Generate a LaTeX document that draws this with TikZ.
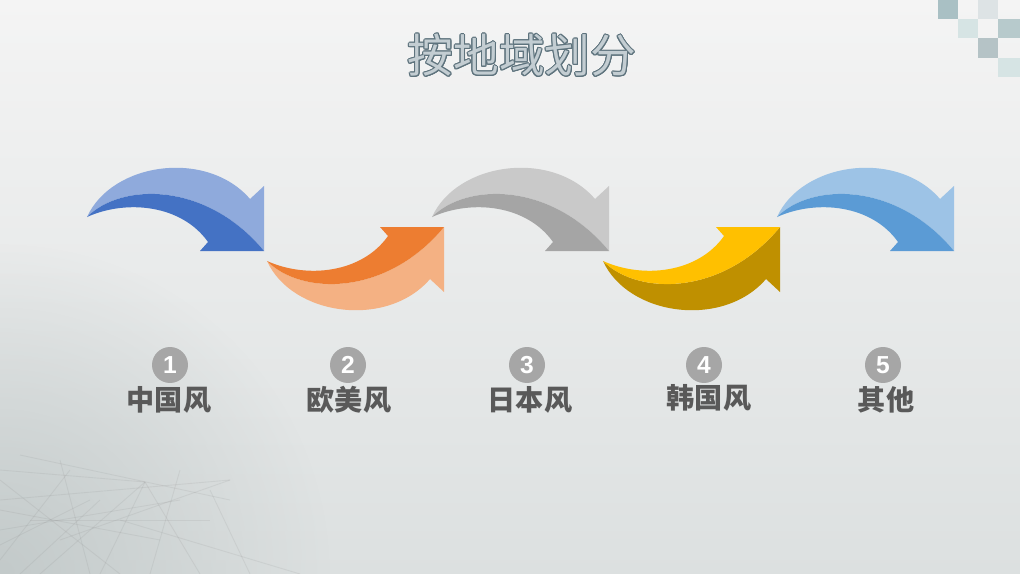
\documentclass[tikz,border=0pt]{standalone}
\usepackage{fontspec}
\usepackage{contour}
\setmainfont{Liberation Sans}
\newfontfamily\cjk{Noto Sans CJK SC}
\usetikzlibrary{fadings}

\definecolor{bgtop}{HTML}{F4F4F4}
\definecolor{bgbot}{HTML}{DCE0E0}
\definecolor{bgdark}{HTML}{C3CACA}
\definecolor{titlefill}{HTML}{C3CDD2}
\definecolor{titleline}{HTML}{5E737D}
\definecolor{numgray}{HTML}{A6A6A6}
\definecolor{labgray}{HTML}{595959}
\definecolor{blueL}{HTML}{8FAADC}
\definecolor{blueD}{HTML}{4472C4}
\definecolor{orangeL}{HTML}{F4B183}
\definecolor{orangeD}{HTML}{ED7D31}
\definecolor{grayL}{HTML}{C9C9C9}
\definecolor{grayD}{HTML}{A5A5A5}
\definecolor{goldL}{HTML}{FFC000}
\definecolor{goldD}{HTML}{BF9000}
\definecolor{skyL}{HTML}{9DC3E6}
\definecolor{skyD}{HTML}{5B9BD5}
\definecolor{chkA}{HTML}{A9C0C4}
\definecolor{chkB}{HTML}{DDE3E5}
\definecolor{chkC}{HTML}{D6E4E4}
\definecolor{chkD}{HTML}{B7CACC}
\definecolor{chkE}{HTML}{B5C3C6}

\tikzfading[name=glow, inner color=transparent!0, outer color=transparent!100]

% curved arrow, tip at the origin: #1 outer band, #2 inner band
\newcommand{\swoosh}[2]{%
  \fill[#1] (0,0) .. controls (25,-55) and (120,-68) .. (163,-18)
    -- (177,-31) -- (177,34) .. controls (120,-35) and (35,-35) .. (0,0) -- cycle;
  \fill[#2] (0,0) .. controls (35,-35) and (120,-35) .. (177,34)
    -- (113,34) -- (121,25) .. controls (95,-12) and (40,-18) .. (0,0) -- cycle;
}

\tikzset{
  numcircle/.style={circle,fill=numgray,text=white,inner sep=0pt,
    minimum size=0.72cm,font=\bfseries\fontsize{14}{14}\selectfont},
  catlabel/.style={text=labgray,inner sep=0pt,
    font=\cjk\bfseries\fontsize{16}{18}\selectfont},
  webline/.style={gray,opacity=0.13,line width=0.5pt}
}

\contourlength{0.6pt}

\begin{document}
\begin{tikzpicture}[x=0.02cm,y=-0.02cm] % one unit is one pixel of the slide
    \useasboundingbox (0,0) rectangle (1020,574);
    \shade[top color=bgtop,bottom color=bgbot] (0,0) rectangle (1020,574);
    \fill[bgdark,path fading=glow] (0,574) circle (330);
    \foreach \xa/\ya/\xb/\yb in {0/470/145/482, 20/455/230/500, 70/470/0/560,
        145/482/100/574, 145/482/200/574, 230/480/60/540, 0/500/230/480,
        120/520/300/574, 40/574/145/482, 0/530/180/500, 210/490/250/574,
        60/460/90/574, 100/500/20/574, 180/470/150/574, 0/480/120/574,
        30/520/210/520, 0/545/90/500, 160/540/0/510}
      \draw[webline] (\xa,\ya) -- (\xb,\yb);
    % squares in the corner
    \fill[chkA] (938,0) rectangle (958,19);
    \fill[chkB] (978,0) rectangle (998,19);
    \fill[chkC] (958,19) rectangle (978,38);
    \fill[chkD] (998,19) rectangle (1020,38);
    \fill[chkE] (978,38) rectangle (998,58);
    \fill[chkC] (998,58) rectangle (1020,77);

    \node (title) at (522,56) [text=titlefill,font=\cjk\fontsize{26}{30}\selectfont]
      {\contour{titleline}{按地域划分}};

    \begin{scope}[shift={(87,217)}]
      \swoosh{blueL}{blueD}
    \end{scope}
    \begin{scope}[shift={(267,261)},yscale=-1]
      \swoosh{orangeL}{orangeD}
    \end{scope}
    \begin{scope}[shift={(432,217)}]
      \swoosh{grayL}{grayD}
    \end{scope}
    \begin{scope}[shift={(603,261)},yscale=-1]
      \swoosh{goldD}{goldL}
    \end{scope}
    \begin{scope}[shift={(777,217)}]
      \swoosh{skyL}{skyD}
    \end{scope}

    \node (num1) at (170,365) [numcircle] {1};
    \node (num2) at (348,365) [numcircle] {2};
    \node (num3) at (527,365) [numcircle] {3};
    \node (num4) at (704,365) [numcircle] {4};
    \node (num5) at (883,365) [numcircle] {5};
    \node (lab1) at (169,400) [catlabel] {中国风};
    \node (lab2) at (349,400) [catlabel] {欧美风};
    \node (lab3) at (530,400) [catlabel] {日本风};
    \node (lab4) at (709,398) [catlabel] {韩国风};
    \node (lab5) at (886,400) [catlabel] {其他};
\end{tikzpicture}
\end{document}
